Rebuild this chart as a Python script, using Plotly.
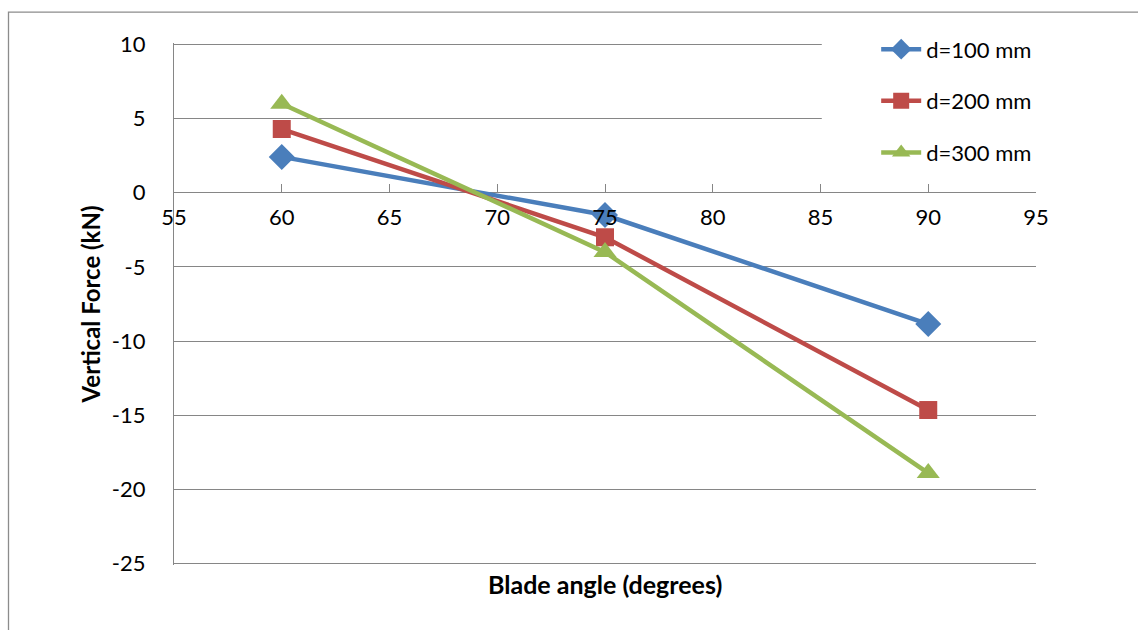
import plotly.graph_objects as go

angles = [60, 75, 90]
d100 = [2.42, -1.5, -8.85]
d200 = [4.3, -3.0, -14.65]
d300 = [6.0, -4.0, -18.9]
series_names = ["d=100 mm", "d=200 mm", "d=300 mm"]
y_ticks = [10, 5, 0, -5, -10, -15, -20, -25]
y_tick_text = ["10", "5", "0", "-5", "-10", "-15", "-20", "-25"]
colors = ["#4A7EBB", "#BE4B48", "#98B954"]
symbols = ["diamond", "square", "triangle-up"]
sizes = [20, 18, 20]

Y_MIN, Y_MAX, PAD = -25, 10, 0.1
FONT = "Lato"
fig = go.Figure()
for i, (name, vals) in enumerate(zip(series_names, [d100, d200, d300])):
    fig.add_trace(go.Scatter(
        x=angles, y=vals, name=name, mode="lines+markers",
        line=dict(color=colors[i], width=4.5),
        marker=dict(symbol=symbols[i], size=sizes[i], color=colors[i]),
        legendgroup=f"g{i}",
    ))

span = (Y_MAX - Y_MIN) + 2 * PAD
fig.update_layout(
    width=1138, height=630,
    margin=dict(l=174, r=102, t=43, b=65),
    plot_bgcolor="white", paper_bgcolor="white",
    font=dict(family=FONT, size=22, color="black"),
    showlegend=True,
    legend=dict(x=0.8146, y=1.028, xanchor="left", yanchor="top",
                font=dict(family=FONT, size=22), tracegroupgap=20,
                bgcolor="rgba(0,0,0,0)", itemwidth=40),
    xaxis=dict(range=[55, 95], dtick=5, tick0=55, showgrid=False,
               anchor="free", position=(0 - Y_MIN + PAD) / span, showline=False,
               ticks="inside",
               ticklen=9, tickcolor="#868686", tickwidth=1.3,
               ticklabelstandoff=9, zeroline=False,
               tickfont=dict(family=FONT, size=22)),
    yaxis=dict(range=[Y_MIN - PAD, Y_MAX + PAD], tickvals=y_ticks,
               ticktext=y_tick_text, showgrid=True,
               gridcolor="#868686", gridwidth=1.3, showline=True,
               linecolor="#868686", linewidth=1.3, zeroline=True,
               zerolinecolor="#868686", zerolinewidth=1.3,
               ticks="", ticklabelstandoff=23,
               tickfont=dict(family=FONT, size=22)),
    annotations=[
        dict(text="<b>Blade angle (degrees)</b>", x=75, xref="x", y=-0.036,
             yref="paper", yanchor="middle", xanchor="center", showarrow=False,
             font=dict(family=FONT, size=25)),
        dict(text="<b>Vertical Force (kN)</b>", x=-0.097, xref="paper",
             xanchor="center", yanchor="middle",
             y=0.5, yref="paper", textangle=-90, showarrow=False,
             font=dict(family=FONT, size=24)),
    ],
    shapes=[
        dict(type="rect", xref="paper", yref="paper",
             x0=-0.192, x1=1.2, y0=-0.2, y1=1.059,
             line=dict(color="#8C8C8C", width=1.3), layer="below"),
        # white legend box covering gridlines (as in the original)
        dict(type="rect", xref="paper", yref="paper",
             x0=0.7515, x1=1.002, y0=0.74, y1=1.012,
             fillcolor="white", line=dict(width=0), layer="above"),
    ],
)

fig.write_html("out.html")
